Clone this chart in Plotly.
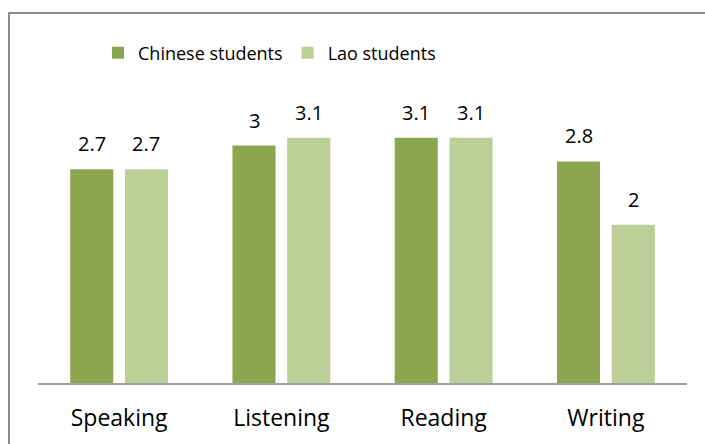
import plotly.graph_objects as go

# Mean scores by language skill
skills = ["Speaking", "Listening", "Reading", "Writing"]
chinese_scores = [2.7, 3.0, 3.1, 2.8]
lao_scores = [2.7, 3.1, 3.1, 2.0]
series_names = ["Chinese students", "Lao students"]

DARK_GREEN = "#8BA64F"
LIGHT_GREEN = "#BBCF97"
FONT = "Open Sans"

W, H = 705, 444
M_L, M_R, M_T, M_B = 38, 18, 106, 61
plot_w = W - M_L - M_R
plot_h = H - M_T - M_B

fig = go.Figure()
fig.add_trace(go.Bar(x=skills, y=chinese_scores, name=series_names[0],
                     marker=dict(color=DARK_GREEN, line=dict(width=0))))
fig.add_trace(go.Bar(x=skills, y=lao_scores, name=series_names[1],
                     marker=dict(color=LIGHT_GREEN, line=dict(width=0))))

# value labels above each bar
annotations = []
for vals, shift in ((chinese_scores, -27.3), (lao_scores, 27.3)):
    for cat, v in zip(skills, vals):
        annotations.append(dict(
            x=cat, y=v, xref="x", yref="y", text=f"{v:g}", showarrow=False,
            xshift=shift, yanchor="bottom", yshift=10,
            font=dict(family=FONT, size=20, color="#000000")))

# outer frame of the chart
def px_to_paper_x(px):
    return (px - M_L) / plot_w

def px_to_paper_y(py):
    return (H - M_B - py) / plot_h

shapes = [dict(type="rect", xref="paper", yref="paper",
               x0=px_to_paper_x(9), x1=px_to_paper_x(W + 20),
               y0=px_to_paper_y(H + 20), y1=px_to_paper_y(13),
               line=dict(color="#8A8A8A", width=2), fillcolor="rgba(0,0,0,0)",
               layer="above")]

fig.update_layout(
    width=W, height=H,
    margin=dict(l=M_L, r=M_R, t=M_T, b=M_B),
    paper_bgcolor="white", plot_bgcolor="white",
    barmode="group", bargap=0.325, bargroupgap=0.214,
    font=dict(family=FONT, size=20, color="#000000"),
    showlegend=True,
    legend=dict(orientation="h", x=px_to_paper_x(98), xanchor="left",
                y=px_to_paper_y(53), yanchor="middle",
                font=dict(family=FONT, size=18, color="#000000"),
                bgcolor="rgba(0,0,0,0)", itemclick=False),
    xaxis=dict(showline=True, linecolor="#A0A0A0", linewidth=2,
               showgrid=False, ticks="", zeroline=False,
               tickfont=dict(family=FONT, size=23, color="#000000"),
               ticklabelstandoff=13, fixedrange=True),
    yaxis=dict(range=[0, 3.5], visible=False, showgrid=False,
               zeroline=False, fixedrange=True),
    annotations=annotations,
    shapes=shapes,
)

fig.write_html("out.html")
